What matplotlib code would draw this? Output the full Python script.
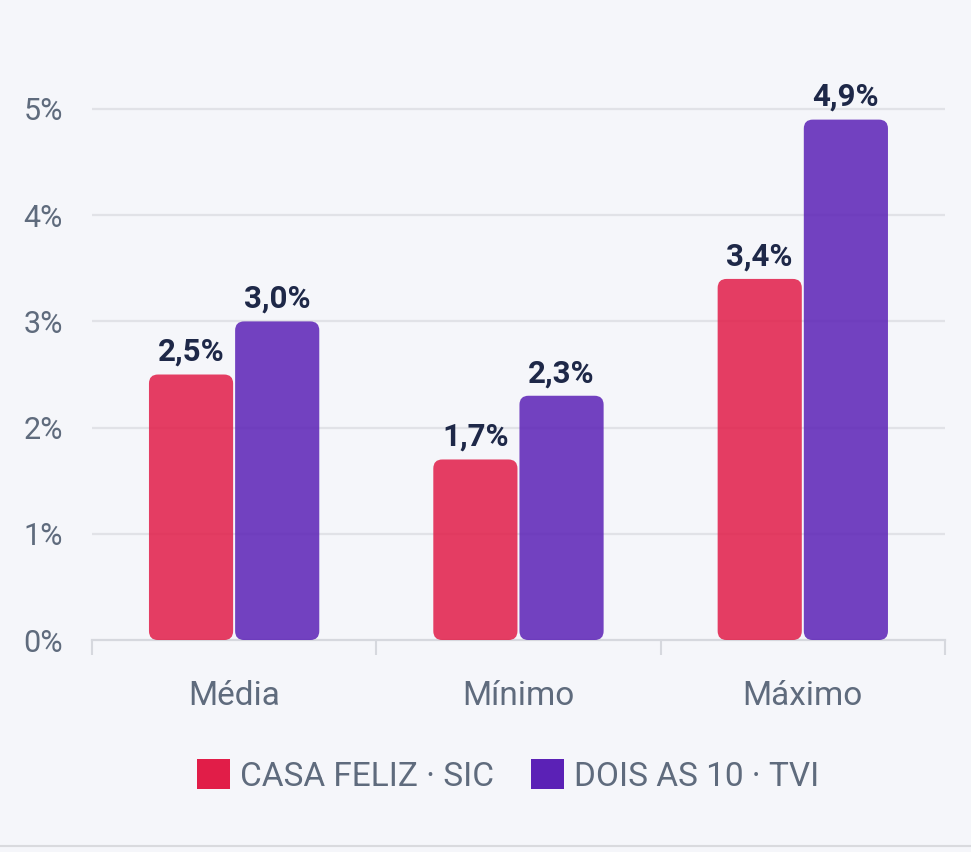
import matplotlib
matplotlib.use("Agg")
import matplotlib.pyplot as plt
from matplotlib.patches import FancyBboxPatch, Patch
from matplotlib.lines import Line2D
import numpy as np

categories = ["Média", "Mínimo", "Máximo"]
series_names = ["CASA FELIZ · SIC", "DOIS AS 10 · TVI"]
casa_feliz = [2.5, 1.7, 3.4]
dois_as_10 = [3.0, 2.3, 4.9]
yticks = [0, 1, 2, 3, 4, 5]

bg = "#f5f6fa"
colors = ["#e11d48", "#5b21b6"]
text_gray = "#5f6b7d"
label_dark = "#1e2848"

plt.rcParams["font.family"] = ["Roboto", "DejaVu Sans"]

fig = plt.figure(figsize=(9.71, 8.52), dpi=100, facecolor=bg)
ax = fig.add_axes([0.0947, 0.2488, 0.8785, 0.6856], facecolor=bg)

x = np.arange(len(categories))
width = 0.296
gap = 0.0035
ax.set_xlim(-0.5, 2.5)
ax.set_ylim(0, 5.5)

# pixel scale ratio for rounded corners
fig.canvas.draw()
bb = ax.get_window_extent()
px_x = bb.width / 3.0
px_y = bb.height / 5.5
aspect = px_x / px_y
r = 9 / px_x

for i, (vals, col) in enumerate(zip([casa_feliz, dois_as_10], colors)):
    offs = (-width / 2 - gap) if i == 0 else (width / 2 + gap)
    bars = ax.bar(x + offs, vals, width, color="none", edgecolor="none")
    for b, v in zip(bars, vals):
        p = FancyBboxPatch((b.get_x(), 0), b.get_width(), v,
                           boxstyle=f"round,pad=0,rounding_size={r}",
                           mutation_aspect=aspect,
                           facecolor=col, alpha=0.85, edgecolor="none", zorder=3)
        ax.add_patch(p)
        ax.annotate(f"{v:.1f}%".replace(".", ","), (b.get_x() + b.get_width() / 2, v),
                    xytext=(0, 5.5), textcoords="offset points",
                    ha="center", va="bottom", fontsize=22.5, fontweight="bold",
                    color=label_dark, zorder=4)

ax.set_yticks(yticks)
ax.set_yticklabels([f"{t}%" for t in yticks], fontsize=22, color=text_gray)
ax.tick_params(axis="y", length=0, pad=21)
for t in yticks[1:]:
    ax.axhline(t, color="#e1e2e7", lw=1.6, zorder=1)

ax.set_xticks(x)
ax.set_xticklabels(categories, fontsize=24, color=text_gray)
ax.set_xticks([-0.5, 0.5, 1.5, 2.5], minor=True)
ax.tick_params(axis="x", which="major", length=0, pad=29)
ax.tick_params(axis="x", which="minor", length=11, width=1.5, color="#d6d8de", direction="out")

for s in ["top", "right", "left"]:
    ax.spines[s].set_visible(False)
ax.spines["bottom"].set_color("#d6d8de")
ax.spines["bottom"].set_linewidth(1.6)

handles = [Patch(facecolor=c, edgecolor="none") for c in colors]
fig.legend(handles, series_names, loc="center", bbox_to_anchor=(508 / 971, 1 - 776 / 852),
           ncol=2, frameon=False, fontsize=24, labelcolor=text_gray,
           handlelength=1.0, handleheight=1.0, handletextpad=0.3, columnspacing=1.1)

fig.add_artist(Line2D([0, 1], [1 - 846 / 852] * 2, transform=fig.transFigure,
                      color="#d9dade", lw=1.5))

fig.savefig("out.png", dpi=100, facecolor=bg)
